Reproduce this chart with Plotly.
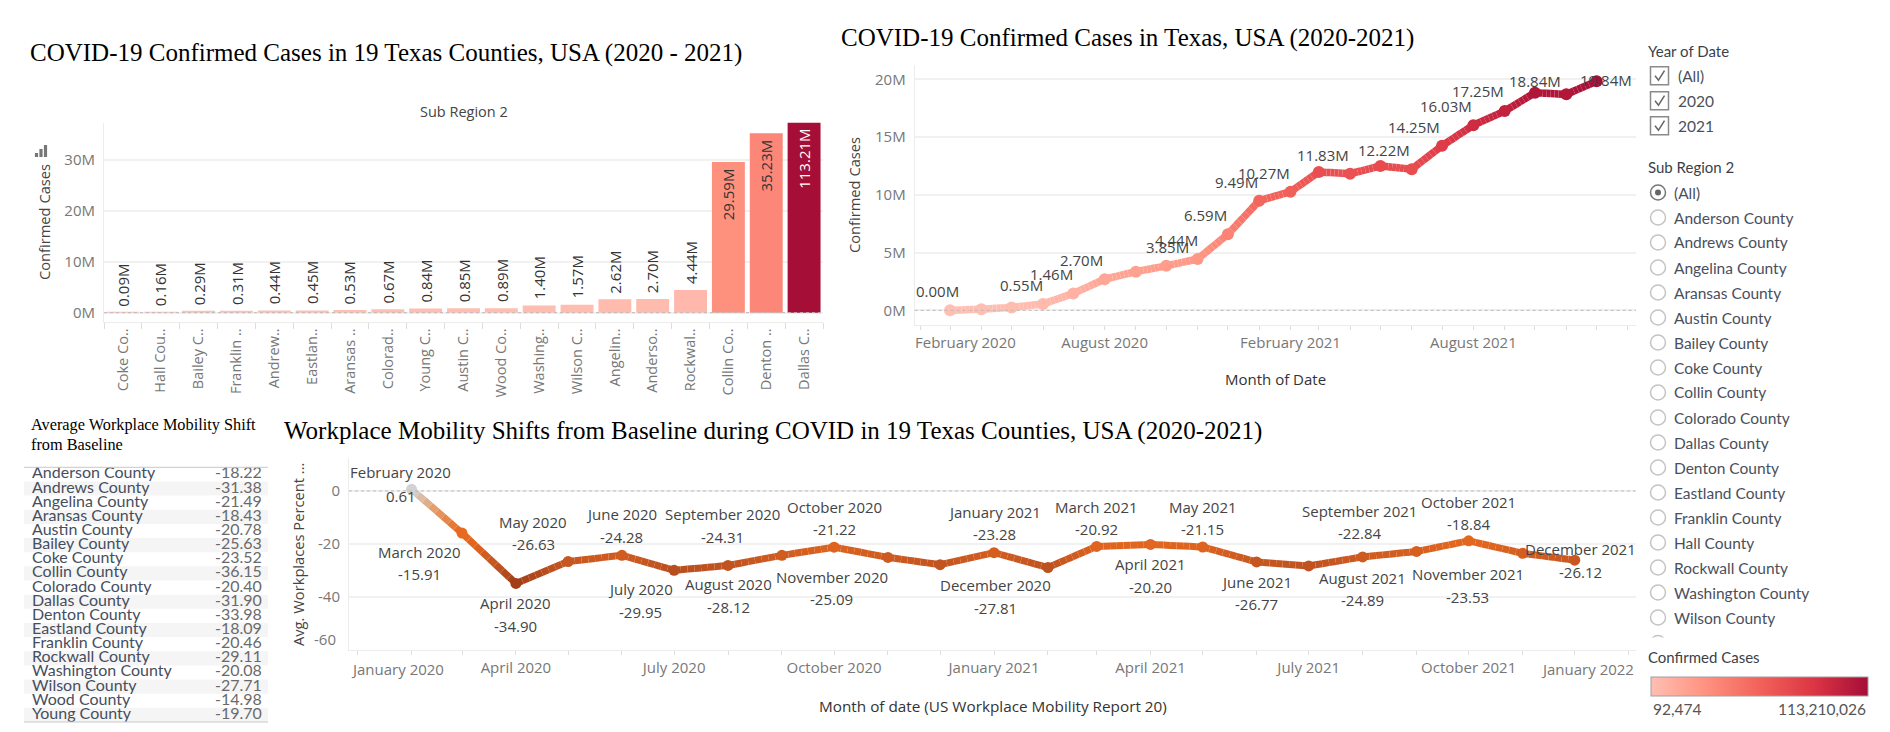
import pandas as pd
import plotly.graph_objects as go
from plotly.colors import sample_colorscale

# ---------- data ----------
BAR_LABELS = ["Coke Co..", "Hall Cou..", "Bailey C..", "Franklin ..", "Andrew..", "Eastlan..", "Aransas ..",
              "Colorad..", "Young C..", "Austin C..", "Wood Co..", "Washing..", "Wilson C..", "Angelin..",
              "Anderso..", "Rockwal..", "Collin Co..", "Denton ..", "Dallas C.."]
BAR_VALUES = [0.09, 0.16, 0.29, 0.31, 0.44, 0.45, 0.53, 0.67, 0.84, 0.85, 0.89, 1.40, 1.57, 2.62, 2.70, 4.44,
              29.59, 35.23, 113.21]
COLOR_MIN = 0.092474
COLOR_MAX = 113.210026

TX_MONTHS = pd.date_range("2020-03-01", "2021-12-01", freq="MS")
TX_VALUES = [0.00, 0.10, 0.25, 0.55, 1.46, 2.70, 3.35, 3.85, 4.44, 6.59, 9.49, 10.27, 11.98, 11.83, 12.50, 12.22,
             14.25, 16.03, 17.25, 18.84, 18.70, 19.84]

MOB_MONTHS = pd.date_range("2020-02-01", "2021-12-01", freq="MS")
MOB_VALUES = [0.61, -15.91, -34.90, -26.63, -24.28, -29.95, -28.12, -24.31, -21.22, -25.09, -27.81, -23.28, -28.90,
              -20.92, -20.20, -21.15, -26.77, -28.30, -24.89, -22.84, -18.84, -23.53, -26.12]

TABLE_COUNTIES = ["Anderson County", "Andrews County", "Angelina County", "Aransas County", "Austin County",
                  "Bailey County", "Coke County", "Collin County", "Colorado County", "Dallas County",
                  "Denton County", "Eastland County", "Franklin County", "Rockwall County", "Washington County",
                  "Wilson County", "Wood County", "Young County"]
TABLE_VALUES = [-18.22, -31.38, -21.49, -18.43, -20.78, -25.63, -23.52, -36.15, -20.40, -31.90, -33.98, -18.09,
                -20.46, -29.11, -20.08, -27.71, -14.98, -19.70]

YEAR_OPTIONS = ["(All)", "2020", "2021"]
REGION_OPTIONS = ["(All)", "Anderson County", "Andrews County", "Angelina County", "Aransas County", "Austin County",
                  "Bailey County", "Coke County", "Collin County", "Colorado County", "Dallas County",
                  "Denton County", "Eastland County", "Franklin County", "Hall County", "Rockwall County",
                  "Washington County", "Wilson County"]

# ---------- style ----------
W, H = 1890, 732
SANS = "Open Sans"
TBL = "Lato"
SERIF = "Liberation Serif"
RED_SCALE = [[0, "#ffbfb3"], [0.25, "#ff9280"], [0.5, "#f2625a"], [0.75, "#dc3545"], [1, "#a50e37"]]
ORANGE_SCALE = [[0, "#a23f18"], [0.2, "#c25420"], [0.42, "#e2661f"], [0.55, "#e66a20"], [0.8, "#e4a070"],
                [1, "#d2d2d2"]]
GRID = "#f1f1f1"
AXIS = "#ececec"
TICK = "#dddddd"


def X(p):
    return p / W


def Y(p):
    return 1 - p / H


fig = go.Figure()
anns = []
shapes = []


def note(text, x, y, size=15, color="#555555", font=SANS, anchor="center", angle=0):
    anns.append(dict(text=text, x=X(x), y=Y(y), xref="paper", yref="paper", showarrow=False, xanchor=anchor,
                     yanchor="middle", textangle=angle, font=dict(family=font, size=size, color=color)))


def gradient_line(dates, values, scale, vmin, vmax, xaxis, yaxis, width, marker):
    """Paint the polyline in short pieces so its colour follows the value, then the month markers on top."""
    for i in range(len(values) - 1):
        steps = 8
        for k in range(steps):
            a, b = k / steps, (k + 1) / steps
            xs = [dates[i] + (dates[i + 1] - dates[i]) * a, dates[i] + (dates[i + 1] - dates[i]) * b]
            ys = [values[i] + (values[i + 1] - values[i]) * a, values[i] + (values[i + 1] - values[i]) * b]
            col = sample_colorscale(scale, [((ys[0] + ys[1]) / 2 - vmin) / (vmax - vmin)])[0]
            fig.add_trace(go.Scatter(x=xs, y=ys, mode="lines", line=dict(color=col, width=width), xaxis=xaxis,
                                     yaxis=yaxis, hoverinfo="skip", showlegend=False))
    fig.add_trace(go.Scatter(x=dates, y=values, mode="markers", xaxis=xaxis, yaxis=yaxis, showlegend=False,
                             marker=dict(size=marker, color=values, colorscale=scale, cmin=vmin, cmax=vmax)))


# ---------- titles ----------
note("COVID-19 Confirmed Cases in 19 Texas Counties, USA (2020 - 2021)", 28, 53, 25, "#000000", SERIF, "left")
note("COVID-19 Confirmed Cases in Texas, USA (2020-2021)", 839, 37.7, 25, "#000000", SERIF, "left")
note("Workplace Mobility Shifts from Baseline during COVID in 19 Texas Counties, USA (2020-2021)", 282, 431, 25,
     "#000000", SERIF, "left")
note("Average Workplace Mobility Shift", 29, 424, 16.3, "#000000", SERIF, "left")
note("from Baseline", 29, 445, 16.3, "#000000", SERIF, "left")

# ---------- bar chart ----------
BAR_TOP = 37.3
fig.add_trace(go.Bar(x=BAR_LABELS, y=BAR_VALUES, xaxis="x", yaxis="y", width=0.87, showlegend=False,
                     marker=dict(color=BAR_VALUES, colorscale=RED_SCALE, cmin=COLOR_MIN, cmax=COLOR_MAX,
                                 showscale=True, line=dict(width=0),
                                 colorbar=dict(orientation="h", x=X(1651.3), xanchor="left", y=Y(696.7),
                                               yanchor="bottom", lenmode="pixels", len=216.7,
                                               thicknessmode="pixels", thickness=19.4, xpad=0, ypad=0,
                                               showticklabels=False, ticks="", outlinecolor="#a0a0a0",
                                               outlinewidth=1))))
for lab, v in zip(BAR_LABELS, BAR_VALUES):
    inside = v > 20
    anns.append(dict(text=f"{v:.2f}M", x=lab, y=min(v, BAR_TOP), xref="x", yref="y", showarrow=False, textangle=-90,
                     xanchor="center", yanchor="top" if inside else "bottom", yshift=-4 if inside else 4,
                     font=dict(family=SANS, size=15, color="#ffffff" if v > 100 else "#333333")))
note("Sub Region 2", 464, 112, 14.5, "#444444")
note("Confirmed Cases", 44, 222, 14.7, "#444444", angle=-90)
for bx, bt in [(36.5, 153), (41, 149), (45.5, 145)]:
    shapes.append(dict(type="rect", xref="paper", yref="paper", x0=X(bx - 1.6), x1=X(bx + 1.6), y0=Y(157), y1=Y(bt),
                       fillcolor="#777777", line=dict(width=0)))
shapes.append(dict(type="line", xref="x domain", yref="y", x0=0, x1=1, y0=0, y1=0,
                   line=dict(color="#bbbbbb", width=1, dash="dot")))

# ---------- Texas line ----------
gradient_line(TX_MONTHS, TX_VALUES, RED_SCALE, 0, 19.84, "x2", "y2", 7.5, 12)
TX_OFFSETS = {0: (-13, -19), 3: (-22, -19), 4: (-22, -19), 5: (-23, -19), 7: (1, -19), 8: (-21, -19), 9: (-22, -19),
              10: (-23, -19), 11: (-27, -19), 13: (-27, -19), 15: (-28, -19), 16: (-28, -19), 17: (-27, -19),
              18: (-27, -20), 19: (0, -12), 21: (9, -1)}
for i, (dx, dy) in TX_OFFSETS.items():
    anns.append(dict(text=f"{TX_VALUES[i]:.2f}M", x=TX_MONTHS[i], y=TX_VALUES[i], xref="x2", yref="y2",
                     showarrow=False, xshift=dx, yshift=-dy, font=dict(family=SANS, size=15, color="#444444")))
note("Confirmed Cases", 854, 195, 14.7, "#444444", angle=-90)
note("Month of Date", 1275, 379, 15, "#333333")
note("February 2020", 966, 342, 15, "#777777")
shapes.append(dict(type="line", xref="x2 domain", yref="y2", x0=0, x1=1, y0=0, y1=0,
                   line=dict(color="#bbbbbb", width=1, dash="dot")))

# ---------- mobility line ----------
gradient_line(MOB_MONTHS, MOB_VALUES, ORANGE_SCALE, -34.9, 0.61, "x3", "y3", 7, 11)
MOB_OFFSETS = {0: (-11, -17, 7), 1: (-43, 19, 41), 2: (0, 20, 43), 3: (-35, -40, -18), 4: (0, -41, -18),
               5: (-34, 19, 42), 6: (0, 19, 42), 7: (-59, -41, -18), 8: (0, -40, -18), 9: (-56, 20, 42),
               10: (55, 20, 43), 11: (0, -41, -19), 13: (0, -39, -17), 14: (0, 20, 43), 15: (0, -40, -18),
               16: (0, 20, 42), 18: (0, 21, 43), 19: (-57, -40, -18), 20: (0, -39, -17), 21: (-55, 21, 44),
               22: (6, -11, 12)}
for i, (dx, dn, dv) in MOB_OFFSETS.items():
    for txt, dy in [(MOB_MONTHS[i].strftime("%B %Y"), dn), (f"{MOB_VALUES[i]:.2f}", dv)]:
        anns.append(dict(text=txt, x=MOB_MONTHS[i], y=MOB_VALUES[i], xref="x3", yref="y3", showarrow=False,
                         xshift=dx, yshift=-dy, font=dict(family=SANS, size=15, color="#444444")))
note("Avg. Workplaces Percent ...", 298, 555, 14.7, "#444444", angle=-90)
note("Month of date (US Workplace Mobility Report 20)", 992.7, 705.7, 15.3, "#333333")
note("January 2020", 397, 668.5, 15, "#777777")
note("January 2022", 1587, 668.5, 15, "#777777")
note("-60", 338, 638.7, 15, "#777777", anchor="right")
shapes.append(dict(type="line", xref="x3 domain", yref="y3", x0=0, x1=1, y0=0, y1=0,
                   line=dict(color="#bbbbbb", width=1, dash="dot")))

# ---------- table ----------
stripe = list(range(1, len(TABLE_COUNTIES), 2))
fig.add_trace(go.Bar(y=stripe, x=[1] * len(stripe), orientation="h", width=1, xaxis="x4", yaxis="y4",
                     marker=dict(color="#f5f5f5", line=dict(width=0)), hoverinfo="skip", showlegend=False))
rows = list(range(len(TABLE_COUNTIES)))
fig.add_trace(go.Scatter(x=[0.033] * len(rows), y=rows, mode="text", text=TABLE_COUNTIES, textposition="middle right",
                         textfont=dict(family=TBL, size=16, color="#464e5e"), xaxis="x4", yaxis="y4",
                         showlegend=False, cliponaxis=False))
fig.add_trace(go.Scatter(x=[0.975] * len(rows), y=rows, mode="text", text=[f"{v:.2f}" for v in TABLE_VALUES],
                         textposition="middle left", textfont=dict(family=TBL, size=16, color="#6a6a6a"),
                         xaxis="x4", yaxis="y4", showlegend=False, cliponaxis=False))
for yy in (467.3, 722):
    shapes.append(dict(type="line", xref="paper", yref="paper", x0=X(24), x1=X(268), y0=Y(yy), y1=Y(yy),
                       line=dict(color="#c8c8c8", width=1)))

# ---------- filter panel ----------
note("Year of Date", 1646, 51, 15, "#3a3f4a", TBL, "left")
for i, opt in enumerate(YEAR_OPTIONS):
    yy = 75.7 + 25 * i
    shapes.append(dict(type="rect", xref="paper", yref="paper", x0=X(1650.5), x1=X(1668.5), y0=Y(yy + 9), y1=Y(yy - 9),
                       line=dict(color="#8a8a8a", width=1.5), fillcolor="#ffffff"))
    shapes.append(dict(type="path", xref="paper", yref="paper",
                       path=f"M {X(1655)} {Y(yy)} L {X(1658.5)} {Y(yy + 4.5)} L {X(1664.5)} {Y(yy - 5)}",
                       line=dict(color="#666666", width=1.5)))
    note(opt, 1676, yy, 15.5, "#4a4f5c", TBL, "left")
note("Sub Region 2", 1646, 167, 15, "#3a3f4a", TBL, "left")
for i, opt in enumerate(REGION_OPTIONS):
    yy = 192.5 + 25 * i
    shapes.append(dict(type="circle", xref="paper", yref="paper", x0=X(1650.5), x1=X(1665.5), y0=Y(yy + 7.5),
                       y1=Y(yy - 7.5), line=dict(color="#777777" if i == 0 else "#c4c4c4", width=1.5),
                       fillcolor="#ffffff"))
    if i == 0:
        shapes.append(dict(type="circle", xref="paper", yref="paper", x0=X(1655), x1=X(1661), y0=Y(yy + 3),
                           y1=Y(yy - 3), line=dict(width=0), fillcolor="#666666"))
    note(opt, 1672, yy, 15.5, "#4a4f5c", TBL, "left")
shapes.append(dict(type="circle", xref="paper", yref="paper", x0=X(1650.5), x1=X(1665.5), y0=Y(650.5), y1=Y(635.5),
                   line=dict(color="#c4c4c4", width=1.5), fillcolor="#ffffff"))
shapes.append(dict(type="rect", xref="paper", yref="paper", x0=X(1645), x1=X(1670), y0=Y(652), y1=Y(637.5),
                   line=dict(width=0), fillcolor="#ffffff"))
note("Confirmed Cases", 1646, 657, 15, "#3a3f4a", TBL, "left")
note("92,474", 1651, 708.5, 15.5, "#555555", TBL, "left")
note("113,210,026", 1868, 708.5, 15.5, "#555555", TBL, "right")

# ---------- layout ----------
base_y = dict(showgrid=True, gridcolor=GRID, gridwidth=2, zeroline=False, showline=True, linecolor=AXIS, linewidth=1,
              ticks="", tickfont=dict(family=SANS, size=15, color="#777777"), ticklabelstandoff=5)
base_x = dict(showgrid=False, zeroline=False, showline=True, linecolor=AXIS, linewidth=1, ticks="outside", ticklen=4,
              tickcolor=TICK, tickfont=dict(family=SANS, size=15, color="#777777"))


def month_ticks(start, end, labelled):
    months = pd.date_range(start, end, freq="MS")
    return list(months), [m.strftime("%B %Y") if m.strftime("%Y-%m") in labelled else "" for m in months]


tx_vals, tx_text = month_ticks("2020-02-01", "2022-01-01", {"2020-08", "2021-02", "2021-08"})
mob_vals, mob_text = month_ticks("2020-01-01", "2022-01-01",
                                 {"2020-04", "2020-07", "2020-10", "2021-01", "2021-04", "2021-07", "2021-10"})

fig.update_layout(
    width=W, height=H, margin=dict(l=0, r=0, t=0, b=0), paper_bgcolor="#ffffff", plot_bgcolor="#ffffff",
    showlegend=False, annotations=anns, shapes=shapes, barmode="overlay",
    xaxis=dict(base_x, domain=[X(104), X(823)], anchor="y", categoryorder="array", categoryarray=BAR_LABELS,
               tickangle=-90, tickson="boundaries", ticklen=6, tickfont=dict(family=SANS, size=14.5, color="#777777")),
    yaxis=dict(base_y, domain=[Y(321.7), Y(122.7)], anchor="x", range=[-1.77, BAR_TOP], tickvals=[0, 10, 20, 30],
               ticktext=["0M", "10M", "20M", "30M"]),
    xaxis2=dict(base_x, domain=[X(914.7), X(1636)], anchor="y2", type="date", range=["2020-01-26", "2022-01-09"],
                tickvals=tx_vals, ticktext=tx_text, tickangle=0),
    yaxis2=dict(base_y, domain=[Y(325), Y(65)], anchor="x2", range=[-1.27, 21.24], tickvals=[0, 5, 10, 15, 20],
                ticktext=["0M", "5M", "10M", "15M", "20M"]),
    xaxis3=dict(base_x, domain=[X(349), X(1635.6)], anchor="y3", type="date", range=["2019-12-27", "2022-01-05"],
                tickvals=mob_vals, ticktext=mob_text, tickangle=0),
    yaxis3=dict(base_y, domain=[Y(650), Y(458.3)], anchor="x3", range=[-60, 12.3], tickvals=[0, -20, -40],
                ticktext=["0", "-20", "-40"]),
    xaxis4=dict(domain=[X(24), X(268)], anchor="y4", range=[0, 1], visible=False),
    yaxis4=dict(domain=[Y(722), Y(467.3)], anchor="x4", range=[17.5, -0.5], visible=False),
)

fig.write_html("out.html", config={"displayModeBar": False},
               post_script="document.body.style.margin='0';document.documentElement.style.overflow='hidden';")
